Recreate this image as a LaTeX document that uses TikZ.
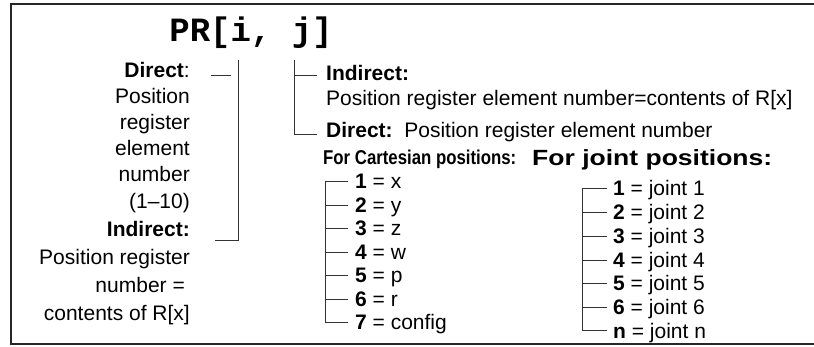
\documentclass[tikz,border=0pt]{standalone}
\usepackage{fontspec}
\setmainfont{Liberation Sans}
\setmonofont{Liberation Mono}
\usepackage{graphicx}
\begin{document}
\begin{tikzpicture}[x=1pt,y=-1pt,
  txt/.style={inner sep=0pt, font=\fontsize{21}{24}\selectfont},
  lft/.style={txt, anchor=base east},
  rgt/.style={txt, anchor=base west},
  item/.style={txt, anchor=west, text height=16pt, text depth=0pt},
  conn/.style={draw=black!80, line width=0.9pt},
  frame/.style={draw=black!85, line width=2.5pt}
]
\useasboundingbox (0,0) rectangle (814,347);
\draw[frame] (814,4) -- (11,4) -- (11,344) -- (814,344);

\node[inner sep=0pt, anchor=base, font=\ttfamily\bfseries\fontsize{34}{40}\selectfont] (title) at (251,42) {PR[i, j]};

% left column
\node[lft] (lDir) at (190,78) {\textbf{Direct}:};
\node[lft] (lPos) at (190,104) {Position};
\node[lft] (lReg) at (190,130) {register};
\node[lft] (lEl) at (190,156) {element};
\node[lft] (lNum) at (190,182) {number};
\node[lft] (lRng) at (190,209) {(1–10)};
\node[lft] (lInd) at (190,237) {\textbf{Indirect:}};
\node[lft] (lPr) at (190,265) {Position register};
\node[lft] (lNe) at (185,293) {number =};
\node[lft] (lCo) at (190,321) {contents of R[x]};

\coordinate (iTop) at (238,60);
\draw[conn] ([xshift=21pt,yshift=3pt]lDir.base east) -- ++(20,0);
\draw[conn] (iTop) |- ([xshift=25pt,yshift=-3pt]lInd.base east);

% middle
\coordinate (jTop) at (294,60);
\node[rgt] (mInd) at (326,81) {\textbf{Indirect:}};
\node[rgt] (mPos) at (326,106) {Position register element number=contents of R[x]};
\node[rgt] (mDir) at (326,138) {\textbf{Direct:}\ \ Position register element number};
\draw[conn] ([xshift=-9pt,yshift=6pt]mInd.base west) -- ++(-23,0);
\draw[conn] (jTop) |- ([xshift=-9pt,yshift=4pt]mDir.base west);

% headings
\node[rgt] (cHead) at (323,165) {\resizebox{193pt}{\height}{\fontsize{20}{24}\selectfont\bfseries For Cartesian positions:}};
\node[rgt] (jHead) at (532,166) {\resizebox{240pt}{\height}{\fontsize{22}{26}\selectfont\bfseries For joint positions:}};

% Cartesian list
\node[item] (c1) at (355,181) {\textbf{1} = x};
\node[item] (c2) at (355,205) {\textbf{2} = y};
\node[item] (c3) at (355,228) {\textbf{3} = z};
\node[item] (c4) at (355,252) {\textbf{4} = w};
\node[item] (c5) at (355,275) {\textbf{5} = p};
\node[item] (c6) at (355,299) {\textbf{6} = r};
\node[item] (c7) at (355,322) {\textbf{7} = config};
\draw[conn] ([xshift=-7pt]c1.west) -| ([xshift=-30pt]c7.west) -- ([xshift=-7pt]c7.west);
\foreach \k in {2,...,6} \draw[conn] ([xshift=-7pt]c\k.west) -- ++(-23,0);

% joint list
\node[item] (j1) at (613,188) {\textbf{1} = joint 1};
\node[item] (j2) at (613,212) {\textbf{2} = joint 2};
\node[item] (j3) at (613,236) {\textbf{3} = joint 3};
\node[item] (j4) at (613,260) {\textbf{4} = joint 4};
\node[item] (j5) at (613,283) {\textbf{5} = joint 5};
\node[item] (j6) at (613,307) {\textbf{6} = joint 6};
\node[item] (jn) at (613,330) {\textbf{n} = joint n};
\draw[conn] ([xshift=-6pt]j1.west) -| ([xshift=-31pt]jn.west) -- ([xshift=-6pt]jn.west);
\foreach \k in {2,...,6} \draw[conn] ([xshift=-6pt]j\k.west) -- ++(-25,0);
\end{tikzpicture}
\end{document}
